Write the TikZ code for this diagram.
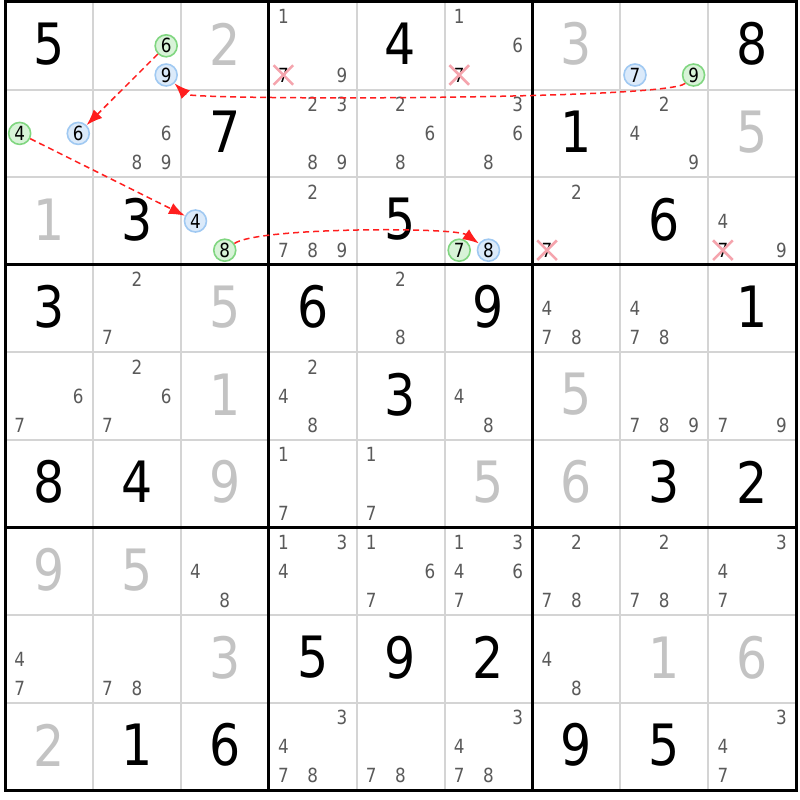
\documentclass[tikz,border=0pt]{standalone}
\usepackage{fontspec}
\setmainfont{DejaVu Sans}
\newfontfamily\cellfont[FakeStretch=0.86]{DejaVu Sans}
\usetikzlibrary{arrows.meta, shapes.misc, positioning}

\definecolor{solvedgray}{HTML}{C3C3C3}
\definecolor{candgray}{HTML}{5A5A5A}
\definecolor{thingray}{HTML}{D4D4D4}
\definecolor{chaingreen}{HTML}{80D680}
\definecolor{chaingreenfill}{HTML}{D8F3D8}
\definecolor{chainblue}{HTML}{A0C9F2}
\definecolor{chainbluefill}{HTML}{DBEAFA}
\definecolor{linkred}{HTML}{FF1E1E}
\definecolor{crosspink}{HTML}{F5A4AD}

\newcommand{\pencilmark}[5]{%
  \pgfmathsetmacro\penx{#4-1+(mod(#5-1,3)+0.5)/3}%
  \pgfmathsetmacro\peny{10-#3-(floor((#5-1)/3)+0.5)/3}%
  \node[#1] (#2) at (\penx,\peny) {#5};}

\begin{document}
\begin{tikzpicture}[x=87.9pt, y=87.6pt,
  given/.style={font=\cellfont\fontsize{57}{57}\selectfont, inner sep=0pt, text=black},
  solved/.style={given, text=solvedgray},
  cand/.style={font=\cellfont\fontsize{19.5}{19.5}\selectfont, inner sep=0pt, text=candgray},
  struck/.style={cand, text=black, cross out, draw=crosspink, line width=2.6pt, minimum width=17pt, minimum height=17pt},
  onpair/.style={cand, text=black, circle, draw=chaingreen, fill=chaingreenfill, line width=1.6pt, minimum size=22pt},
  offpair/.style={onpair, draw=chainblue, fill=chainbluefill},
  link/.style={draw=linkred, line width=1.5pt, dash pattern=on 6pt off 4pt, -{Latex[length=16pt,width=12pt]}}]

\useasboundingbox[fill=white] (-0.057,-0.109) rectangle (9.044,9.023);

\foreach \i in {1,2,4,5,7,8} {
  \draw[thingray, line width=2pt] (\i,0) -- (\i,9);
  \draw[thingray, line width=2pt] (0,\i) -- (9,\i);
}
\foreach \i in {3,6} {
  \draw[line width=3pt] (\i,0) -- (\i,9);
  \draw[line width=3pt] (0,\i) -- (9,\i);
}
\draw[line width=3pt] (0,0) rectangle (9,9);

\foreach \r/\c/\d in {1/1/5, 1/5/4, 1/9/8, 2/3/7, 2/7/1, 3/2/3, 3/5/5, 3/8/6,
    4/1/3, 4/4/6, 4/6/9, 4/9/1, 5/5/3, 6/1/8, 6/2/4, 6/8/3, 6/9/2,
    8/4/5, 8/5/9, 8/6/2, 9/2/1, 9/3/6, 9/7/9, 9/8/5}
  \node[given] (v\r\c) at (\c-0.5, 9.52-\r) {\d};

\foreach \r/\c/\d in {1/3/2, 1/7/3, 2/9/5, 3/1/1, 4/3/5, 5/3/1, 5/7/5, 6/3/9,
    6/6/5, 6/7/6, 7/1/9, 7/2/5, 8/3/3, 8/8/1, 8/9/6, 9/1/2}
  \node[solved] (v\r\c) at (\c-0.5, 9.52-\r) {\d};

\foreach \r/\c/\ds in {1/4/{1,9}, 1/6/{1,6},
    2/2/{6,8,9}, 2/4/{2,3,8,9}, 2/5/{2,6,8}, 2/6/{3,6,8}, 2/8/{2,4,9},
    3/4/{2,7,8,9}, 3/7/{2}, 3/9/{4,9},
    4/2/{2,7}, 4/5/{2,8}, 4/7/{4,7,8}, 4/8/{4,7,8},
    5/1/{6,7}, 5/2/{2,6,7}, 5/4/{2,4,8}, 5/6/{4,8}, 5/8/{7,8,9}, 5/9/{7,9},
    6/4/{1,7}, 6/5/{1,7},
    7/3/{4,8}, 7/4/{1,3,4}, 7/5/{1,6,7}, 7/6/{1,3,4,6,7}, 7/7/{2,7,8}, 7/8/{2,7,8}, 7/9/{3,4,7},
    8/1/{4,7}, 8/2/{7,8}, 8/7/{4,8},
    9/4/{3,4,7,8}, 9/5/{7,8}, 9/6/{3,4,7,8}, 9/9/{3,4,7}}
  {\foreach \d in \ds {\pencilmark{cand}{p\r\c\d}{\r}{\c}{\d}}}

\foreach \r/\c in {1/4, 1/6, 3/7, 3/9}
  {\pencilmark{struck}{x\r\c}{\r}{\c}{7}}

\pencilmark{onpair}{g126}{1}{2}{6}
\pencilmark{offpair}{b129}{1}{2}{9}
\pencilmark{offpair}{b187}{1}{8}{7}
\pencilmark{onpair}{g189}{1}{8}{9}
\pencilmark{onpair}{g214}{2}{1}{4}
\pencilmark{offpair}{b216}{2}{1}{6}
\pencilmark{offpair}{b334}{3}{3}{4}
\pencilmark{onpair}{g338}{3}{3}{8}
\pencilmark{onpair}{g367}{3}{6}{7}
\pencilmark{offpair}{b368}{3}{6}{8}

\draw[link] (g189) to[out=225, in=-45, looseness=0.12] (b129);
\draw[link] (g126) -- (b216);
\draw[link] (g214) -- (b334);
\draw[link] (g338) to[out=35, in=145, looseness=0.3] (b368);

\end{tikzpicture}
\end{document}
